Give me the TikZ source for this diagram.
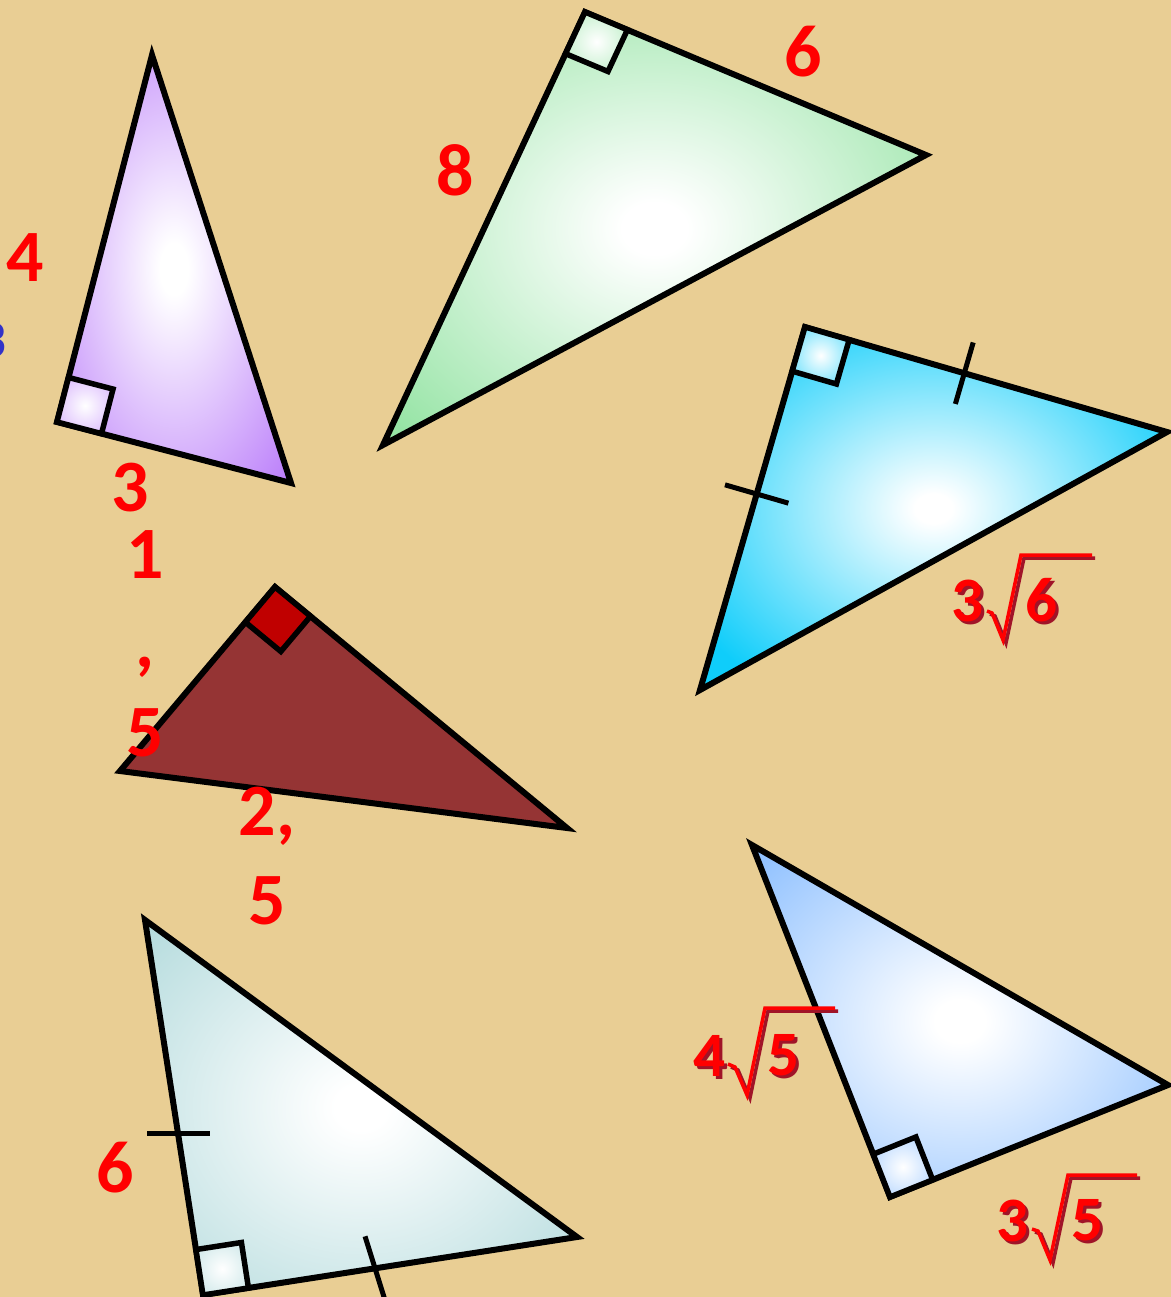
\documentclass[tikz,border=0pt]{standalone}
\usepackage{fontspec}
\setsansfont{Carlito}
\usetikzlibrary{calc}

\definecolor{paper}{RGB}{233,206,148}
\definecolor{violetT}{RGB}{188,128,250}
\definecolor{greenT}{RGB}{150,228,165}
\definecolor{cyanT}{RGB}{15,205,250}
\definecolor{blueT}{RGB}{135,188,255}
\definecolor{tealT}{RGB}{178,218,220}
\definecolor{brownT}{RGB}{149,52,52}
\definecolor{markred}{RGB}{192,0,0}
\definecolor{shadowred}{RGB}{160,20,40}
\definecolor{inkblue}{RGB}{50,50,200}

\pgfdeclareradialshading{glowviolet}{\pgfpoint{0bp}{0bp}}{color(0bp)=(white); color(3bp)=(white); color(34bp)=(violetT); color(50bp)=(violetT)}
\pgfdeclareradialshading{glowgreen}{\pgfpoint{0bp}{0bp}}{color(0bp)=(white); color(3bp)=(white); color(33bp)=(greenT); color(50bp)=(greenT)}
\pgfdeclareradialshading{glowcyan}{\pgfpoint{0bp}{0bp}}{color(0bp)=(white); color(2bp)=(white); color(30bp)=(cyanT); color(50bp)=(cyanT)}
\pgfdeclareradialshading{glowblue}{\pgfpoint{0bp}{0bp}}{color(0bp)=(white); color(3bp)=(white); color(36bp)=(blueT); color(50bp)=(blueT)}
\pgfdeclareradialshading{glowteal}{\pgfpoint{0bp}{0bp}}{color(0bp)=(white); color(3bp)=(white); color(36bp)=(tealT); color(50bp)=(tealT)}

\newcommand{\rtmark}[4]{%
  \coordinate (m1) at ($(#1)!4.6mm!(#2)$);
  \coordinate (m2) at ($(#1)!4.6mm!(#3)$);
  \path[#4] (#1) -- (m1) -- ($(m1)+(m2)-(#1)$) -- (m2) -- cycle;}
\newcommand{\shd}[1]{\rlap{\kern0.3mm\raisebox{-0.3mm}{\color{shadowred}#1}}#1}

\begin{document}
\begin{tikzpicture}[x=0.1mm, y=-0.1mm,
    tri/.style={draw=black, line width=0.6mm, line join=miter},
    ramark/.style={draw=black, line width=0.55mm},
    tick/.style={draw=black, line width=0.5mm},
    num/.style={text=red, inner sep=0pt, font=\sffamily\bfseries\fontsize{21}{25.3}\selectfont},
    rad/.style={text=red, inner sep=0pt, font=\sffamily\bfseries\fontsize{18}{22}\selectfont},
    radline/.style={draw=red, line width=0.35mm, line join=miter},
    radshadow/.style={draw=shadowred, line width=0.35mm, line join=miter, shift={(3,3)}}]
    \useasboundingbox (0,0) rectangle (1171,1297);
    \clip (0,0) rectangle (1171,1297);
    \fill[paper] (0,0) rectangle (1171,1297);

    \coordinate (pA) at (57,422);
    \coordinate (pB) at (152,55);
    \coordinate (pC) at (291,483);
    \shade[tri, shading=glowviolet] (pB) -- (pA) -- (pC) -- cycle;
    \rtmark{pA}{pB}{pC}{ramark, inner color=white, outer color=violetT!45}

    \coordinate (gA) at (585,12);
    \coordinate (gB) at (926,155);
    \coordinate (gC) at (383,445);
    \shade[tri, shading=glowgreen] (gA) -- (gB) -- (gC) -- cycle;
    \rtmark{gA}{gB}{gC}{ramark, inner color=white, outer color=greenT!50}

    \coordinate (cA) at (805,327);
    \coordinate (cB) at (1167,432);
    \coordinate (cC) at (700,690);
    \shade[tri, shading=glowcyan] (cA) -- (cB) -- (cC) -- cycle;
    \rtmark{cA}{cB}{cC}{ramark, inner color=white, outer color=cyanT!50}
    \coordinate (ct1) at ($(cA)!0.44!(cB)$);
    \coordinate (ct2) at ($(cA)!0.46!(cC)$);
    \draw[tick] ($(ct1)!3.2mm!90:(cB)$) -- ($(ct1)!3.2mm!-90:(cB)$);
    \draw[tick] ($(ct2)!3.3mm!90:(cC)$) -- ($(ct2)!3.3mm!-90:(cC)$);

    \coordinate (bA) at (275,587);
    \coordinate (bB) at (120,771);
    \coordinate (bC) at (567,828);
    \filldraw[tri, fill=brownT] (bA) -- (bB) -- (bC) -- cycle;
    \rtmark{bA}{bB}{bC}{ramark, fill=markred}

    \coordinate (lA) at (890,1197);
    \coordinate (lB) at (752,845);
    \coordinate (lC) at (1168,1085);
    \shade[tri, shading=glowblue] (lB) -- (lC) -- (lA) -- cycle;
    \rtmark{lA}{lB}{lC}{ramark, inner color=white, outer color=blueT!50}

    \coordinate (tA) at (203,1295);
    \coordinate (tB) at (145,920);
    \coordinate (tC) at (577,1237);
    \shade[tri, shading=glowteal] (tB) -- (tC) -- (tA) -- cycle;
    \rtmark{tA}{tB}{tC}{ramark, inner color=white, outer color=tealT!50}
    \coordinate (tt1) at ($(tA)!0.43!(tB)$);
    \coordinate (tt2) at ($(tA)!0.46!(tC)$);
    \draw[tick] ($(tt1)+(-31,0)$) -- ($(tt1)+(32,0)$);
    \draw[tick] ($(tt2)+(-10,-32)$) -- ($(tt2)+(10,32)$);

    \node[num] (four) at (25,258) {4};
    \node[text=inkblue, inner sep=0pt, font=\sffamily\bfseries\fontsize{15}{18}\selectfont] (cut) at (-7,340) {3};
    \node[num] (three) at (130,488) {3};
    \node[num, align=center] (onefive) at (145,644) {1\\,\\5};
    \node[num, align=center] (twofive) at (267,856) {2,\\5};
    \node[num] (eight) at (455,170) {8};
    \node[num] (sixtop) at (803,52) {6};
    \node[num] (sixlow) at (115,1168) {6};

    \node[rad] (r36a) at (968,602) {\shd{3}};
    \node[rad] (r36b) at (1042,602) {\shd{6}};
    \draw[radshadow] (987,611) -- (992,613) -- (1003,640) -- (1021,555) -- (1092,555);
    \draw[radline] (987,611) -- (992,613) -- (1003,640) -- (1021,555) -- (1092,555);

    \node[rad] (r45a) at (710,1057) {\shd{4}};
    \node[rad] (r45b) at (784,1057) {\shd{5}};
    \draw[radshadow] (728,1064) -- (735,1067) -- (747,1095) -- (765,1008) -- (835,1008);
    \draw[radline] (728,1064) -- (735,1067) -- (747,1095) -- (765,1008) -- (835,1008);

    \node[rad] (r35a) at (1013,1222) {\shd{3}};
    \node[rad] (r35b) at (1088,1222) {\shd{5}};
    \draw[radshadow] (1032,1229) -- (1038,1231) -- (1050,1260) -- (1068,1175) -- (1137,1175);
    \draw[radline] (1032,1229) -- (1038,1231) -- (1050,1260) -- (1068,1175) -- (1137,1175);
\end{tikzpicture}
\end{document}
